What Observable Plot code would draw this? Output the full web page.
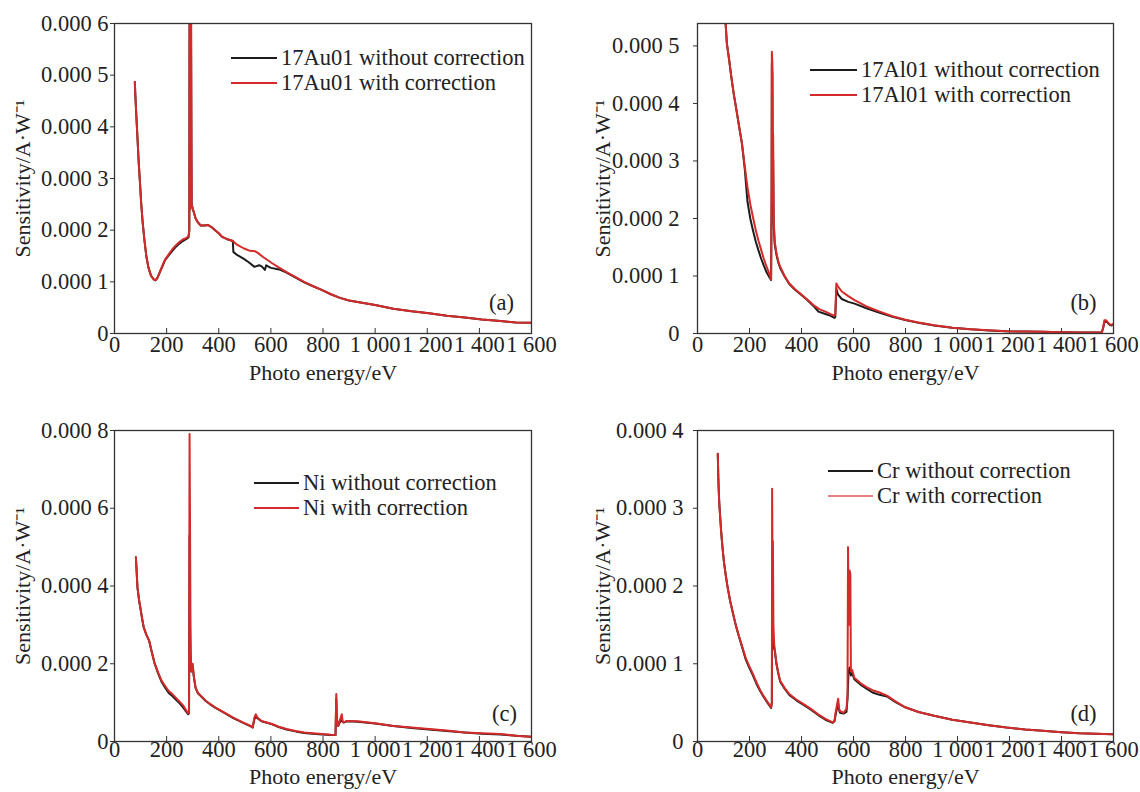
<!DOCTYPE html>
<html><head><meta charset="utf-8">
<script src="https://cdn.jsdelivr.net/npm/d3@7"></script>
<script src="https://cdn.jsdelivr.net/npm/@observablehq/plot@0.6"></script>
<style>
html,body{margin:0;padding:0;background:#fff;overflow:hidden;}
#root{position:relative;width:1140px;height:792px;font-family:'Liberation Serif','Times New Roman',serif;color:#222;}
.panel{position:absolute;}
.legend{position:absolute;font-size:22.5px;line-height:25px;color:#222;}
.row{display:flex;align-items:center;height:25px;white-space:nowrap;}
.sw{margin-right:4px;}
</style></head><body><div id="root"></div>
<script>
// Energy axis (eV) and tick labels
const xTicks = [0,200,400,600,800,1000,1200,1400,1600];
const xTickLabels = ["0","200","400","600","800","1 000","1 200","1 400","1 600"];

// Sensitivity values are in units of 1e-4 A/W: [energy eV, value]
// (a) 17Au01
const auWith = [[78,4.87],[80,4.6],[84,4.2],[88,3.8],[93,3.3],[98,2.9],[102,2.55],[108,2.15],[115,1.8],[122,1.5],[130,1.28],[140,1.12],[150,1.05],[158,1.03],[165,1.08],[174,1.19],[184,1.32],[194,1.43],[208,1.53],[222,1.63],[236,1.71],[249,1.77],[262,1.82],[276,1.85],[284,1.88],[287,2.0],[288,6.5],[290,6.5],[291,2.4],[292,6.5],[294,6.5],[296,2.5],[300,2.42],[304,2.35],[311,2.23],[320,2.15],[331,2.09],[345,2.09],[359,2.1],[372,2.06],[386,2.0],[400,1.94],[413,1.87],[430,1.83],[454,1.79],[470,1.72],[495,1.65],[520,1.6],[540,1.59],[550,1.56],[570,1.48],[605,1.36],[630,1.28],[660,1.19],[695,1.09],[728,1.0],[760,0.92],[797,0.84],[830,0.76],[865,0.69],[900,0.64],[933,0.61],[1000,0.55],[1070,0.48],[1140,0.43],[1207,0.39],[1275,0.345],[1344,0.31],[1410,0.27],[1481,0.24],[1540,0.215],[1600,0.206]];
const auWithout = [[78,4.87],[80,4.6],[84,4.2],[88,3.8],[93,3.3],[98,2.9],[102,2.55],[108,2.15],[115,1.8],[122,1.5],[130,1.28],[140,1.12],[150,1.05],[158,1.03],[165,1.08],[174,1.19],[184,1.3],[194,1.42],[208,1.51],[222,1.6],[236,1.68],[249,1.74],[262,1.79],[276,1.83],[284,1.86],[287,2.0],[288,6.5],[293,6.5],[296,2.5],[300,2.42],[304,2.35],[311,2.23],[320,2.15],[331,2.09],[345,2.09],[359,2.1],[372,2.06],[386,2.0],[400,1.94],[413,1.87],[430,1.83],[454,1.79],[456,1.58],[470,1.52],[495,1.45],[515,1.38],[537,1.29],[555,1.32],[565,1.3],[577,1.23],[582,1.32],[600,1.27],[632,1.24],[660,1.18],[695,1.08],[728,0.99],[760,0.92],[797,0.84],[830,0.76],[865,0.69],[900,0.64],[933,0.61],[1000,0.55],[1070,0.48],[1140,0.43],[1207,0.39],[1275,0.345],[1344,0.31],[1410,0.27],[1481,0.24],[1540,0.215],[1600,0.206]];

// (b) 17Al01
const alWith = [[100,5.9],[108,5.4],[113,5.04],[122,4.75],[130,4.46],[140,4.15],[150,3.88],[160,3.6],[171,3.3],[182,2.9],[192,2.55],[203,2.25],[213,2.03],[224,1.8],[234,1.62],[245,1.45],[255,1.3],[265,1.17],[276,1.04],[283,0.94],[285,2.5],[286,4.9],[288,4.7],[289,3.5],[291,3.45],[293,2.0],[297,1.6],[304,1.39],[311,1.25],[318,1.16],[335,1.0],[353,0.87],[375,0.77],[394,0.7],[420,0.6],[450,0.48],[470,0.42],[492,0.38],[510,0.34],[527,0.31],[530,0.33],[534,0.87],[540,0.82],[555,0.73],[580,0.65],[604,0.58],[650,0.47],[701,0.38],[750,0.3],[799,0.24],[850,0.19],[910,0.145],[980,0.1],[1050,0.075],[1120,0.055],[1189,0.04],[1260,0.033],[1328,0.029],[1400,0.022],[1480,0.018],[1555,0.017],[1560,0.1],[1565,0.23],[1572,0.23],[1585,0.16],[1593,0.15],[1600,0.17]];
const alWithout = [[100,5.9],[108,5.4],[113,5.04],[122,4.75],[130,4.46],[140,4.15],[150,3.88],[160,3.6],[171,3.3],[182,2.85],[192,2.3],[203,2.0],[213,1.8],[224,1.6],[234,1.45],[245,1.3],[255,1.18],[265,1.07],[276,0.98],[283,0.93],[285,2.3],[286,4.7],[288,4.5],[289,3.2],[291,3.0],[293,1.9],[297,1.55],[304,1.36],[311,1.23],[318,1.14],[335,0.99],[353,0.86],[375,0.76],[394,0.69],[420,0.59],[450,0.46],[465,0.38],[492,0.34],[510,0.31],[527,0.27],[530,0.29],[534,0.78],[540,0.68],[555,0.6],[580,0.55],[604,0.52],[650,0.44],[701,0.36],[750,0.29],[799,0.235],[850,0.185],[910,0.14],[980,0.1],[1050,0.073],[1120,0.054],[1189,0.04],[1260,0.033],[1328,0.029],[1400,0.022],[1480,0.018],[1555,0.017],[1560,0.09],[1565,0.2],[1572,0.21],[1585,0.15],[1593,0.14],[1600,0.16]];

// (c) Ni
const niWith = [[82,4.74],[84,4.5],[88,3.97],[95,3.6],[99,3.45],[105,3.2],[112,2.94],[122,2.75],[133,2.59],[143,2.3],[153,2.03],[167,1.78],[181,1.56],[195,1.42],[208,1.3],[222,1.22],[235,1.13],[249,1.03],[263,0.93],[275,0.8],[283,0.72],[286,0.75],[288,7.91],[290,5.3],[292,2.3],[295,1.8],[300,2.0],[304,1.7],[311,1.39],[320,1.25],[331,1.18],[350,1.05],[368,0.96],[386,0.88],[420,0.75],[454,0.62],[490,0.5],[523,0.4],[530,0.36],[537,0.62],[542,0.7],[548,0.62],[564,0.53],[585,0.49],[605,0.45],[630,0.38],[660,0.32],[695,0.27],[728,0.23],[760,0.21],[797,0.19],[830,0.175],[848,0.17],[851,1.22],[853,0.6],[858,0.4],[865,0.55],[872,0.7],[876,0.5],[879,0.49],[892,0.53],[933,0.52],[1000,0.47],[1070,0.4],[1140,0.36],[1207,0.32],[1275,0.28],[1344,0.23],[1410,0.21],[1481,0.19],[1540,0.15],[1600,0.12]];
const niWithout = [[82,4.74],[84,4.5],[88,3.97],[95,3.6],[99,3.45],[105,3.2],[112,2.94],[122,2.75],[133,2.59],[143,2.3],[153,2.03],[167,1.76],[181,1.53],[195,1.38],[208,1.25],[222,1.17],[235,1.08],[249,0.99],[263,0.88],[275,0.77],[283,0.7],[286,0.73],[288,5.3],[290,3.0],[292,2.2],[295,1.8],[300,1.95],[304,1.68],[311,1.38],[320,1.24],[331,1.17],[350,1.04],[368,0.95],[386,0.87],[420,0.74],[454,0.61],[490,0.49],[523,0.39],[530,0.36],[537,0.58],[542,0.64],[548,0.6],[564,0.52],[585,0.48],[605,0.44],[630,0.37],[660,0.31],[695,0.26],[728,0.22],[760,0.2],[797,0.18],[830,0.17],[848,0.165],[851,1.1],[853,0.55],[858,0.4],[865,0.5],[872,0.55],[876,0.5],[879,0.49],[892,0.52],[933,0.51],[1000,0.46],[1070,0.4],[1140,0.35],[1207,0.31],[1275,0.27],[1344,0.23],[1410,0.2],[1481,0.18],[1540,0.15],[1600,0.12]];

// (d) Cr
const crWith = [[78,3.7],[80,3.4],[82,3.2],[84,3.05],[88,2.85],[91,2.7],[96,2.5],[102,2.3],[109,2.13],[116,1.98],[126,1.8],[137,1.64],[147,1.5],[157,1.38],[171,1.23],[185,1.08],[199,0.97],[213,0.87],[227,0.76],[241,0.66],[255,0.58],[269,0.51],[279,0.46],[283,0.44],[286,0.5],[287,3.25],[289,2.0],[290,2.58],[292,1.5],[295,1.25],[297,1.19],[304,1.0],[311,0.88],[318,0.78],[335,0.69],[353,0.61],[380,0.54],[408,0.48],[436,0.42],[464,0.35],[492,0.29],[520,0.245],[527,0.27],[531,0.37],[538,0.5],[541,0.55],[545,0.42],[548,0.39],[562,0.37],[573,0.42],[577,0.6],[579,2.5],[582,1.5],[585,2.2],[588,2.15],[590,0.9],[595,0.92],[603,0.82],[631,0.74],[650,0.7],[673,0.66],[700,0.63],[729,0.59],[760,0.52],[799,0.44],[850,0.38],[910,0.33],[980,0.28],[1050,0.245],[1120,0.21],[1189,0.18],[1260,0.155],[1328,0.137],[1400,0.12],[1468,0.107],[1530,0.1],[1600,0.094]];
const crWithout = [[78,3.7],[80,3.4],[82,3.2],[84,3.05],[88,2.85],[91,2.7],[96,2.5],[102,2.3],[109,2.13],[116,1.98],[126,1.8],[137,1.64],[147,1.5],[157,1.38],[171,1.22],[185,1.06],[199,0.95],[213,0.85],[227,0.74],[241,0.65],[255,0.57],[269,0.5],[279,0.45],[283,0.43],[286,0.5],[287,1.58],[289,1.2],[292,1.3],[295,1.2],[297,1.17],[304,0.99],[311,0.87],[318,0.77],[335,0.68],[353,0.6],[380,0.53],[408,0.47],[436,0.41],[464,0.34],[492,0.28],[520,0.24],[527,0.26],[531,0.34],[538,0.45],[541,0.48],[545,0.4],[548,0.37],[562,0.36],[573,0.38],[577,0.55],[581,0.9],[585,0.95],[590,0.85],[595,0.88],[603,0.8],[631,0.72],[650,0.68],[673,0.63],[700,0.6],[729,0.58],[760,0.51],[799,0.44],[850,0.38],[910,0.33],[980,0.28],[1050,0.245],[1120,0.21],[1189,0.18],[1260,0.155],[1328,0.137],[1400,0.12],[1468,0.107],[1530,0.1],[1600,0.094]];

// y tick values (units of 1e-4) per panel
const yTicksA = [0,1,2,3,4,5,6];
const yTicksB = [0,1,2,3,4,5];
const yTicksC = [0,2,4,6,8];
const yTicksD = [0,1,2,3,4];

const legendA = ["17Au01 without correction","17Au01 with correction"];
const legendB = ["17Al01 without correction","17Al01 with correction"];
const legendC = ["Ni without correction","Ni with correction"];
const legendD = ["Cr without correction","Cr with correction"];

const RED = "#d42a2a", BLACK = "#1c1c1c";
const FONT = "'Liberation Serif', 'Times New Roman', serif";
const toRows = arr => arr.map(([e, v]) => ({e, v}));
const fmtX = d => xTickLabels[xTicks.indexOf(d)];
const fmtY = d => d === 0 ? "0" : "0.000 " + d;

const root = document.getElementById("root");

function panel(o) {
  const svg = Plot.plot({
    width: o.w, height: o.h,
    marginTop: o.mt, marginBottom: o.mb, marginLeft: o.ml, marginRight: o.mr,
    style: {fontFamily: FONT, fontSize: "22.5px", color: "#222", background: "transparent"},
    x: {domain: [0, 1600]},
    y: {domain: [0, o.ymax]},
    marks: [
      Plot.axisX({ticks: xTicks, tickFormat: fmtX, tickSize: -5, tickPadding: o.xpad, label: null, fontSize: 22.5, stroke: "#333"}),
      Plot.axisY({ticks: o.yticks, tickFormat: fmtY, tickSize: 4, tickPadding: o.ypad, label: null, fontSize: 22.5, stroke: "#333"}),
      Plot.line(toRows(o.black), {x: "e", y: "v", stroke: BLACK, strokeWidth: 2, clip: true}),
      Plot.line(toRows(o.red), {x: "e", y: "v", stroke: RED, strokeWidth: 2, clip: true}),
      Plot.frame({stroke: "#333", strokeWidth: 1.3}),
      Plot.text([o.tag], {frameAnchor: "bottom-right", dx: o.tagDx, dy: o.tagDy, textAnchor: "middle", lineAnchor: "middle", fontSize: 22.5, fill: "#222"}),
      Plot.text(["Photo energy/eV"], {frameAnchor: "bottom", dy: o.xtDy, textAnchor: "middle", lineAnchor: "middle", fontSize: 22, fill: "#222"}),
      Plot.text(["Sensitivity/A·W⁻¹"], {frameAnchor: "left", dx: o.ytDx, rotate: -90, textAnchor: "middle", lineAnchor: "middle", fontSize: 22, fill: "#222"})
    ]
  });
  const wrap = document.createElement("div");
  wrap.className = "panel";
  wrap.style.left = o.left + "px";
  wrap.style.top = o.top + "px";
  wrap.appendChild(svg);
  root.appendChild(wrap);

  const lg = document.createElement("div");
  lg.className = "legend";
  lg.style.left = o.lgX + "px";
  lg.style.top = (o.lgY - 12) + "px";
  o.legend.forEach((txt, i) => {
    const row = document.createElement("div");
    row.className = "row";
    const sw = document.createElement("div");
    sw.className = "sw";
    sw.style.width = o.lgW + "px";
    sw.style.borderTop = i === 0 ? `2.5px solid ${BLACK}` : (o.lgRedThin ? `2px solid #e88080` : `2.5px solid ${RED}`);
    const t = document.createElement("span");
    t.textContent = txt;
    row.appendChild(sw);
    row.appendChild(t);
    lg.appendChild(row);
  });
  root.appendChild(lg);
}

const wTop = 570, hTop = 396;
panel({left: 0, top: 0, w: wTop, h: hTop, mt: 23, mb: 63, ml: 114, mr: 39, ymax: 6, yticks: yTicksA, ypad: 2, xpad: 8,
  black: auWithout, red: auWith, tag: "(a)", tagDx: -30, tagDy: -31, xtDy: 39, ytDx: -92,
  legend: legendA, lgX: 231, lgY: 57, lgW: 46});
panel({left: 570, top: 0, w: wTop, h: hTop, mt: 23, mb: 63, ml: 127, mr: 27, ymax: 5.39, yticks: yTicksB, ypad: 14, xpad: 8,
  black: alWithout, red: alWith, tag: "(b)", tagDx: -30, tagDy: -31, xtDy: 39, ytDx: -95,
  legend: legendB, lgX: 810, lgY: 69, lgW: 47});
panel({left: 0, top: 396, w: wTop, h: hTop, mt: 34, mb: 51, ml: 114, mr: 39, ymax: 8, yticks: yTicksC, ypad: 2, xpad: 5,
  black: niWithout, red: niWith, tag: "(c)", tagDx: -27, tagDy: -28, xtDy: 35, ytDx: -92,
  legend: legendC, lgX: 254, lgY: 482, lgW: 45});
panel({left: 570, top: 396, w: wTop, h: hTop, mt: 34, mb: 51, ml: 127, mr: 27, ymax: 4, yticks: yTicksD, ypad: 10, xpad: 5,
  black: crWithout, red: crWith, tag: "(d)", tagDx: -30, tagDy: -28, xtDy: 35, ytDx: -95,
  legend: legendD, lgX: 828, lgY: 470, lgW: 45, lgRedThin: true});
</script></body></html>
